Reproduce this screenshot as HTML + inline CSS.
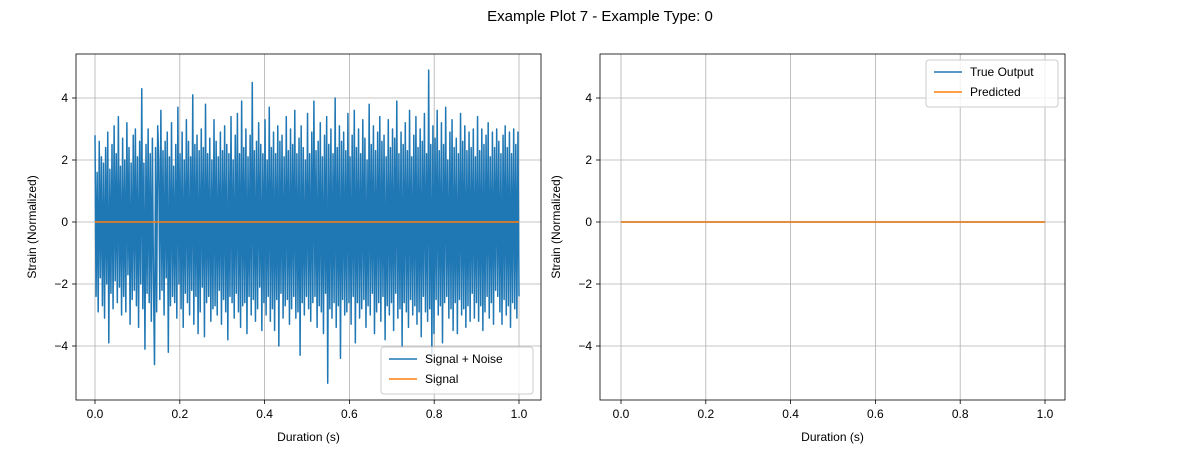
<!DOCTYPE html>
<html><head><meta charset="utf-8"><style>
body{margin:0;background:#fff;font-family:"Liberation Sans",sans-serif}
svg text{font-family:"Liberation Sans","DejaVu Sans",sans-serif;fill:#000}
</style></head><body>
<svg id="c" width="1200" height="450" xmlns="http://www.w3.org/2000/svg">
<text x="600" y="21" font-size="15" text-anchor="middle">Example Plot 7 - Example Type: 0</text>
</svg>
<script>
const xTicks=[0.0,0.2,0.4,0.6,0.8,1.0];
const xTickLabels=["0.0","0.2","0.4","0.6","0.8","1.0"];
const yTicks=[-4,-2,0,2,4];
const yTickLabels=["−4","−2","0","2","4"];
const noisyValues=[
2.8,-2.4,1.6,-2.9,2.6,-1.8,2.1,-2.7,1.9,-3.1,2.4,-2.0,2.9,-3.9,1.7,-2.3,2.5,-2.8,3.1,-1.9,
2.2,-2.6,3.4,-2.1,1.8,-3.0,2.7,-2.4,2.0,-2.9,3.2,-1.7,2.4,-3.3,1.9,-2.5,2.8,-2.2,3.0,-2.7,
2.1,-3.4,2.6,-2.0,4.3,-2.8,1.9,-4.1,2.5,-2.3,3.0,-2.6,2.2,-3.2,2.7,-1.9,-4.6,2.4,-2.9,3.1,
2.0,-2.5,3.6,-2.2,2.3,-3.0,2.6,-1.8,2.9,-4.2,2.1,-2.7,3.2,-2.4,1.8,-2.6,2.5,-3.1,3.7,-2.0,
2.2,-2.8,2.9,-3.4,2.0,-2.3,3.3,-2.6,2.6,-3.0,2.1,-2.2,4.1,-3.3,2.5,-2.4,2.8,-3.6,2.3,-2.9,
3.0,-2.1,2.4,-3.7,3.8,-2.6,2.2,-2.4,2.7,-3.2,2.0,-2.8,3.3,-2.7,2.6,-3.0,2.1,-2.2,2.9,-3.3,
2.3,-2.5,3.1,-2.9,2.5,-3.8,2.2,-2.4,3.4,-2.6,2.0,-3.1,2.8,-2.3,3.5,-2.9,2.2,-3.4,3.9,-2.7,
2.4,-2.6,3.0,-3.6,2.1,-2.4,2.8,-3.0,4.5,-2.5,2.3,-3.2,2.6,-2.8,3.2,-2.1,2.5,-3.5,2.2,-2.6,
3.3,-3.0,2.0,-2.4,3.7,-3.2,2.4,-2.8,2.9,-3.5,2.2,-2.5,3.1,-4.0,2.6,-2.3,2.8,-3.1,2.1,-2.7,
3.4,-2.5,2.3,-3.3,3.0,-2.8,2.5,-2.4,3.6,-3.1,2.2,-2.9,2.7,-4.3,3.1,-2.6,2.4,-3.0,2.0,-2.4,
3.5,-2.8,2.2,-3.2,2.9,-2.6,3.9,-2.4,2.3,-3.4,2.6,-2.7,3.2,-2.9,2.1,-3.6,2.8,-2.3,3.4,-5.2,
2.5,-2.8,3.0,-3.1,2.2,-2.6,4.0,-3.4,2.4,-2.7,3.1,-4.4,2.6,-2.5,2.9,-3.0,2.3,-2.9,3.5,-2.6,
2.1,-3.3,2.8,-2.4,3.6,-3.9,2.4,-2.6,3.0,-3.1,2.2,-2.8,3.3,-2.5,2.7,-3.4,2.0,-2.7,3.8,-3.0,
2.5,-2.3,3.1,-3.6,2.3,-2.9,2.9,-2.6,3.4,-3.2,2.6,-2.4,2.8,-3.8,2.1,-2.7,3.3,-3.0,2.4,-2.6,
3.0,-3.5,2.7,-2.3,3.9,-3.1,2.2,-2.8,2.9,-4.0,2.5,-2.6,3.2,-2.9,2.3,-3.4,3.6,-2.5,2.1,-3.0,
2.8,-2.7,3.4,-3.3,2.4,-2.9,3.0,-3.7,2.6,-2.4,3.5,-2.9,2.2,-3.2,4.9,-2.8,2.5,-4.3,3.1,-3.6,
2.7,-2.5,3.6,-3.0,2.3,-2.7,3.2,-3.9,2.5,-2.6,3.7,-2.4,2.0,-3.1,2.9,-2.8,3.3,-3.5,2.4,-2.6,
2.7,-3.6,2.2,-2.5,3.5,-3.0,2.6,-2.8,3.1,-3.4,2.3,-2.7,2.9,-3.2,2.4,-2.3,3.0,-3.1,2.1,-2.6,
3.4,-3.2,2.3,-2.7,3.0,-3.5,2.5,-2.9,2.8,-2.4,3.2,-3.1,2.1,-2.6,2.9,-3.3,2.4,-2.2,3.0,-2.4,
2.6,-2.9,2.2,-3.3,2.8,-2.5,3.1,-3.0,2.4,-2.7,2.9,-3.4,2.2,-2.6,3.0,-2.8,2.5,-3.1,2.9,-2.4];
const signalValues=[0,0];
const trueOutputValues=[0,0];
const predictedValues=[0,0];
const NS="http://www.w3.org/2000/svg";
const svg=document.getElementById('c');
function mk(t,a,p){const e=document.createElementNS(NS,t);for(const k in a)e.setAttribute(k,a[k]);(p||svg).appendChild(e);return e;}
function panel(px,x0,idx){
 const L=px,R=px+465,T=54,B=400;
 const sx=v=>x0+v*424, sy=v=>222-v*31;
 const g=mk('g',{});
 
 
 xTicks.forEach((t,i)=>{
  const l=mk('line',{x1:sx(t),x2:sx(t),y1:T,y2:B,stroke:'#b0b0b0','stroke-width':0.8},g);
  
  mk('line',{x1:sx(t),x2:sx(t),y1:B,y2:B+4,stroke:'#000','stroke-width':0.8},g);
  const tx=mk('text',{x:sx(t),y:B+18,'font-size':12,'text-anchor':'middle'},g);tx.textContent=xTickLabels[i];
  
 });
 yTicks.forEach((t,i)=>{
  const l=mk('line',{x1:L,x2:R,y1:sy(t),y2:sy(t),stroke:'#b0b0b0','stroke-width':0.8},g);
  
  mk('line',{x1:L-4,x2:L,y1:sy(t),y2:sy(t),stroke:'#000','stroke-width':0.8},g);
  const tx=mk('text',{x:L-8,y:sy(t)+4,'font-size':12,'text-anchor':'end'},g);tx.textContent=yTickLabels[i];
  
 });
 function line(vals,color,name){
  const n=vals.length;const d=vals.map((v,i)=>(i?'L':'M')+sx(i/(n-1)).toFixed(2)+','+sy(v).toFixed(2)).join('');
  const p=mk('path',{d:d,fill:'none',stroke:color,'stroke-width':1.5,'stroke-linejoin':'round'},g);
  
 }
 if(idx==='left'){line(noisyValues,'#1f77b4','signal-noise-line');line(signalValues,'#ff7f0e','signal-line');}
 else{line(trueOutputValues,'#1f77b4','true-output-line');line(predictedValues,'#ff7f0e','predicted-line');}
 const fr=mk('rect',{x:L,y:T,width:465,height:346,fill:'none',stroke:'#000','stroke-width':0.8},g);
 
 const xl=mk('text',{x:(L+R)/2,y:441,'font-size':12,'text-anchor':'middle'},g);xl.textContent='Duration (s)';
 
 const yl=mk('text',{x:0,y:0,'font-size':12,'text-anchor':'middle',transform:`translate(${L-40},227) rotate(-90)`},g);yl.textContent='Strain (Normalized)';
 
}
function legend(x,y,w,items){
 const g=mk('g',{});
 
 mk('rect',{x:x,y:y,width:w,height:47,rx:3,fill:'#fff','fill-opacity':0.8,stroke:'#ccc'},g);
 items.forEach((it,i)=>{
  const yy=y+12+i*20;
  mk('line',{x1:x+8,x2:x+36,y1:yy,y2:yy,stroke:it[1],'stroke-width':1.5},g);
  const t=mk('text',{x:x+44,y:yy+4,'font-size':12},g);t.textContent=it[0];
  
 });
}
panel(76,95,'left');
panel(600,621,'right');
legend(381,347,152,[['Signal + Noise','#1f77b4'],['Signal','#ff7f0e']]);
legend(926,60,132,[['True Output','#1f77b4'],['Predicted','#ff7f0e']]);
</script>
</body></html>
